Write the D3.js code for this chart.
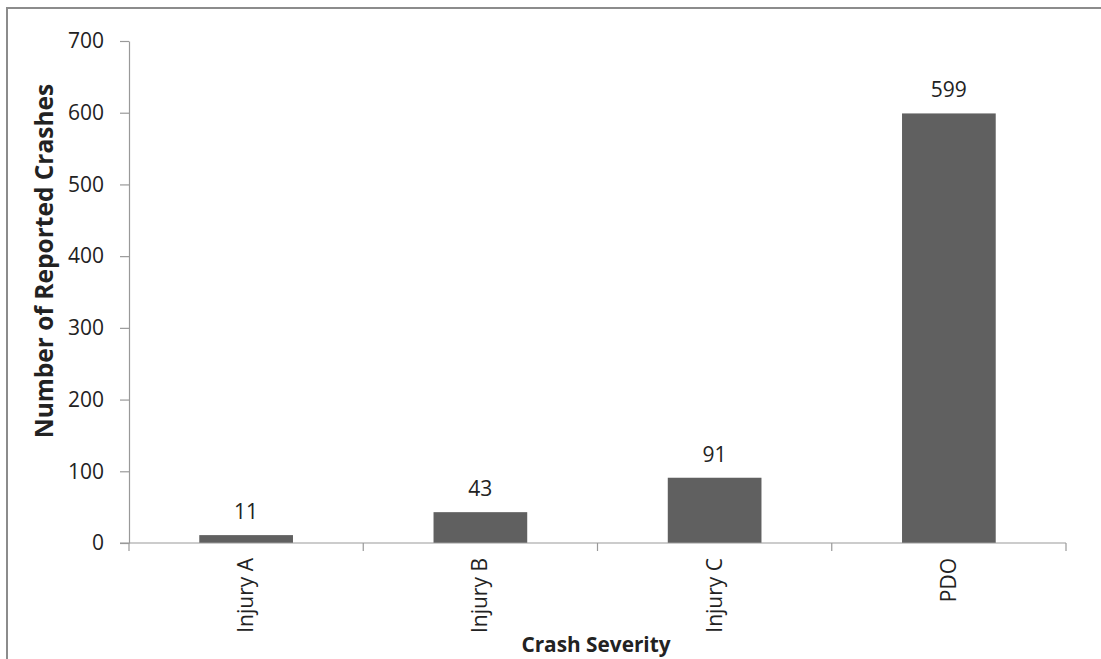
<!DOCTYPE html>
<html><head><meta charset="utf-8">
<script src="https://cdn.jsdelivr.net/npm/d3@7"></script>
<style>
html,body{margin:0;padding:0;background:#fff;}
svg{display:block;}
text{font-family:"Open Sans",sans-serif;fill:#222;}
</style></head>
<body><svg id="c" width="1101" height="659"></svg>
<script>
const categories = ["Injury A","Injury B","Injury C","PDO"];
const values = [11,43,91,599];
const yTicks = [0,100,200,300,400,500,600,700];
const xTitle = "Crash Severity";
const yTitle = "Number of Reported Crashes";

const svg = d3.select("#c");
const W = 1101, H = 659;
const m = {left:129, right:1066, top:41, bottom:543};

svg.append("rect").attr("x",7).attr("y",8).attr("width",W+10).attr("height",H+10)
  .attr("fill","none").attr("stroke","#8c8c8c").attr("stroke-width",2);

const x = d3.scaleBand().domain(categories).range([m.left,m.right]).paddingInner(0.6).paddingOuter(0.3);
const y = d3.scaleLinear().domain([0,700]).range([m.bottom,m.top]);

// bars
svg.selectAll("rect.bar").data(values).join("rect").attr("class","bar")
  .attr("x",(d,i)=>x(categories[i])).attr("width",x.bandwidth())
  .attr("y",d=>y(d)).attr("height",d=>y(0)-y(d)).attr("fill","#606060");

// y axis
const ya = svg.append("g").attr("transform",`translate(${m.left},0)`)
  .call(d3.axisLeft(y).tickValues(yTicks).tickSize(9).tickPadding(16).tickSizeOuter(0));
ya.select(".domain").attr("stroke","#999").attr("stroke-width",1.2);
ya.selectAll(".tick line").attr("stroke","#999").attr("stroke-width",1.2);
ya.selectAll(".tick text").style("font-size","21px").attr("fill","#222");

// x axis line and boundary ticks
const xa = svg.append("g");
xa.append("line").attr("x1",m.left-9).attr("x2",m.right).attr("y1",y(0)).attr("y2",y(0)).attr("stroke","#999").attr("stroke-width",1.2);
const bounds = d3.range(categories.length+1).map(i=> m.left + i*x.step());
xa.selectAll("line.bt").data(bounds).join("line").attr("class","bt")
  .attr("x1",d=>d).attr("x2",d=>d).attr("y1",y(0)).attr("y2",y(0)+8).attr("stroke","#999").attr("stroke-width",1.2);

// category labels
svg.selectAll("text.cat").data(categories).join("text").attr("class","cat")
  .attr("transform",d=>`translate(${x(d)+x.bandwidth()/2+7},558) rotate(-90)`)
  .attr("text-anchor","end").style("font-size","21px").text(d=>d);

// data labels
svg.selectAll("text.val").data(values).join("text").attr("class","val")
  .attr("x",(d,i)=>x(categories[i])+x.bandwidth()/2).attr("y",d=>y(d)-16)
  .attr("text-anchor","middle").style("font-size","21px").text(d=>d);

// titles
svg.append("text").attr("x",596).attr("y",652).attr("text-anchor","middle")
  .style("font-size","20.8px").style("font-weight","bold").attr("fill","#111").text(xTitle);
svg.append("text").attr("transform",`translate(53,261) rotate(-90)`).attr("text-anchor","middle")
  .style("font-size","24.5px").style("font-weight","bold").attr("fill","#111").text(yTitle);
</script></body></html>
